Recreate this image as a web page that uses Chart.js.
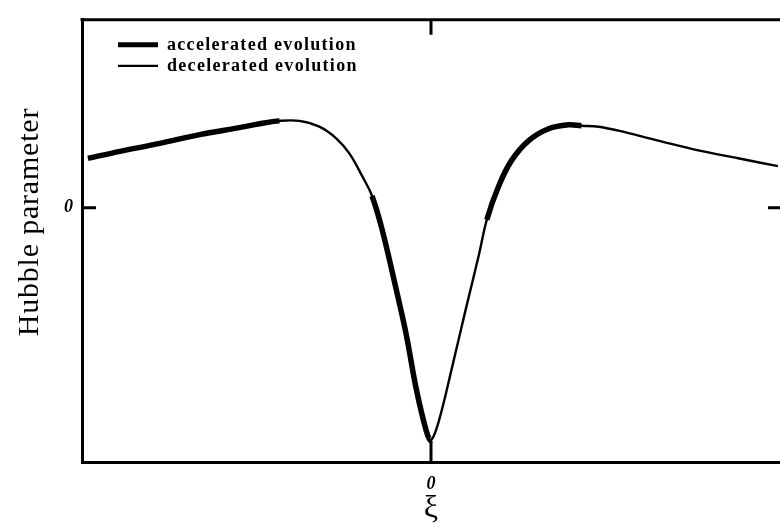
<!DOCTYPE html>
<html>
<head>
<meta charset="utf-8">
<script src="https://cdn.jsdelivr.net/npm/chart.js@4/dist/chart.umd.min.js"></script>
<style>
  html, body { margin: 0; padding: 0; background: #fff; }
  canvas { display: block; }
</style>
</head>
<body>
<canvas id="hubble-chart" width="780" height="532"></canvas>
<script>
// ===== Hubble parameter vs xi =====
const xiValues = [
  -0.983, -0.891, -0.777, -0.663, -0.549, -0.491, -0.434, -0.377, -0.320, -0.271,
  -0.234, -0.197, -0.169, -0.140, -0.100, -0.071, -0.043, -0.014, 0,
  0.023, 0.060, 0.100, 0.137, 0.160, 0.194, 0.231, 0.280, 0.337, 0.394,
  0.431, 0.480, 0.537, 0.651, 0.766, 0.880, 0.994,
];
const hubbleValues = [
  0.213, 0.243, 0.277, 0.315, 0.345, 0.362, 0.374, 0.374, 0.349, 0.298,
  0.234, 0.136, 0.051, -0.094, -0.349, -0.545, -0.774, -0.957, -1.0,
  -0.915, -0.689, -0.434, -0.204, -0.051, 0.094, 0.204, 0.289, 0.340, 0.357,
  0.353, 0.349, 0.332, 0.289, 0.247, 0.213, 0.179,
];
// xi intervals where the evolution is accelerated (thick stroke)
const acceleratedRanges = [[-1, -0.43], [-0.18, 0], [0.16, 0.435]];
const legendLabels = ['accelerated evolution', 'decelerated evolution'];
const xTickValues = [0];
const yTickValues = [0];

const points = xiValues.map((x, i) => ({ x, y: hubbleValues[i] }));

function isAccelerated(ctx) {
  const mid = (ctx.p0.parsed.x + ctx.p1.parsed.x) / 2;
  return acceleratedRanges.some(r => mid >= r[0] && mid <= r[1]);
}

const frameAndLegend = {
  id: 'frameAndLegend',
  afterDraw(chart) {
    const { ctx, chartArea: a, scales } = chart;
    const x0 = scales.x.getPixelForValue(0);
    const y0 = scales.y.getPixelForValue(0);
    ctx.save();
    ctx.strokeStyle = '#000';
    ctx.lineCap = 'butt';

    // top border
    ctx.lineWidth = 3;
    ctx.beginPath();
    ctx.moveTo(a.left - 1.5, a.top);
    ctx.lineTo(a.right, a.top);
    ctx.stroke();

    // inward ticks
    ctx.lineWidth = 3;
    ctx.beginPath();
    ctx.moveTo(a.left, y0); ctx.lineTo(a.left + 14, y0);
    ctx.moveTo(a.right, y0); ctx.lineTo(a.right - 12, y0);
    ctx.moveTo(x0, a.top); ctx.lineTo(x0, a.top + 15);
    ctx.moveTo(x0, a.bottom); ctx.lineTo(x0, a.bottom - 21);
    ctx.stroke();

    // legend
    const lx = a.left + 36, ly = a.top + 25;
    ctx.font = 'bold 18px "Liberation Serif", serif';
    ctx.letterSpacing = '1.3px';
    ctx.fillStyle = '#000';
    ctx.textBaseline = 'middle';
    legendLabels.forEach((label, i) => {
      const y = ly + i * 21;
      ctx.lineWidth = i === 0 ? 5 : 2.2;
      ctx.beginPath();
      ctx.moveTo(lx, y);
      ctx.lineTo(lx + 40, y);
      ctx.stroke();
      ctx.fillText(label, lx + 49, y + 1);
    });

    // y title
    ctx.font = '30px "Liberation Serif", serif';
    ctx.letterSpacing = '0.8px';
    ctx.textAlign = 'center';
    ctx.translate(30, 222);
    ctx.rotate(-Math.PI / 2);
    ctx.fillText('Hubble parameter', 0, 0);
    ctx.restore();
  },
};

new Chart(document.getElementById('hubble-chart'), {
  type: 'line',
  data: {
    datasets: [
      {
        label: 'decelerated evolution',
        data: points,
        borderColor: '#000',
        borderWidth: 2.4,
        pointRadius: 0,
        tension: 0.35,
      },
      {
        label: 'accelerated evolution',
        data: points,
        borderColor: '#000',
        borderWidth: 5.5,
        pointRadius: 0,
        tension: 0.35,
        segment: {
          borderColor: ctx => isAccelerated(ctx) ? '#000' : 'rgba(0,0,0,0)',
        },
      },
    ],
  },
  options: {
    responsive: false,
    animation: false,
    layout: { padding: { top: 15, right: 0, left: 0, bottom: 0 } },
    plugins: { legend: { display: false }, tooltip: { enabled: false } },
    scales: {
      x: {
        type: 'linear',
        min: -1,
        max: 1,
        grid: { display: false, drawTicks: false },
        border: { display: true, color: '#000', width: 3 },
        afterBuildTicks: s => { s.ticks = xTickValues.map(v => ({ value: v })); },
        afterFit: s => { s.height = 70; },
        ticks: {
          padding: 12,
          color: '#000',
          font: { family: '"Liberation Serif", serif', size: 18, style: 'italic', weight: 'bold' },
          callback: v => String(v),
        },
        title: {
          display: true,
          text: 'ξ',
          color: '#000',
          padding: { top: -2 },
          font: { family: '"Liberation Serif", serif', size: 32 },
        },
      },
      y: {
        type: 'linear',
        min: -1.094,
        max: 0.809,
        grid: { display: false, drawTicks: false },
        border: { display: true, color: '#000', width: 3 },
        afterBuildTicks: s => { s.ticks = yTickValues.map(v => ({ value: v })); },
        afterFit: s => { s.width = 82; },
        ticks: {
          padding: 9,
          color: '#000',
          font: { family: '"Liberation Serif", serif', size: 18, style: 'italic', weight: 'bold' },
          callback: v => String(v),
        },
      },
    },
  },
  plugins: [frameAndLegend],
});
</script>
</body>
</html>
